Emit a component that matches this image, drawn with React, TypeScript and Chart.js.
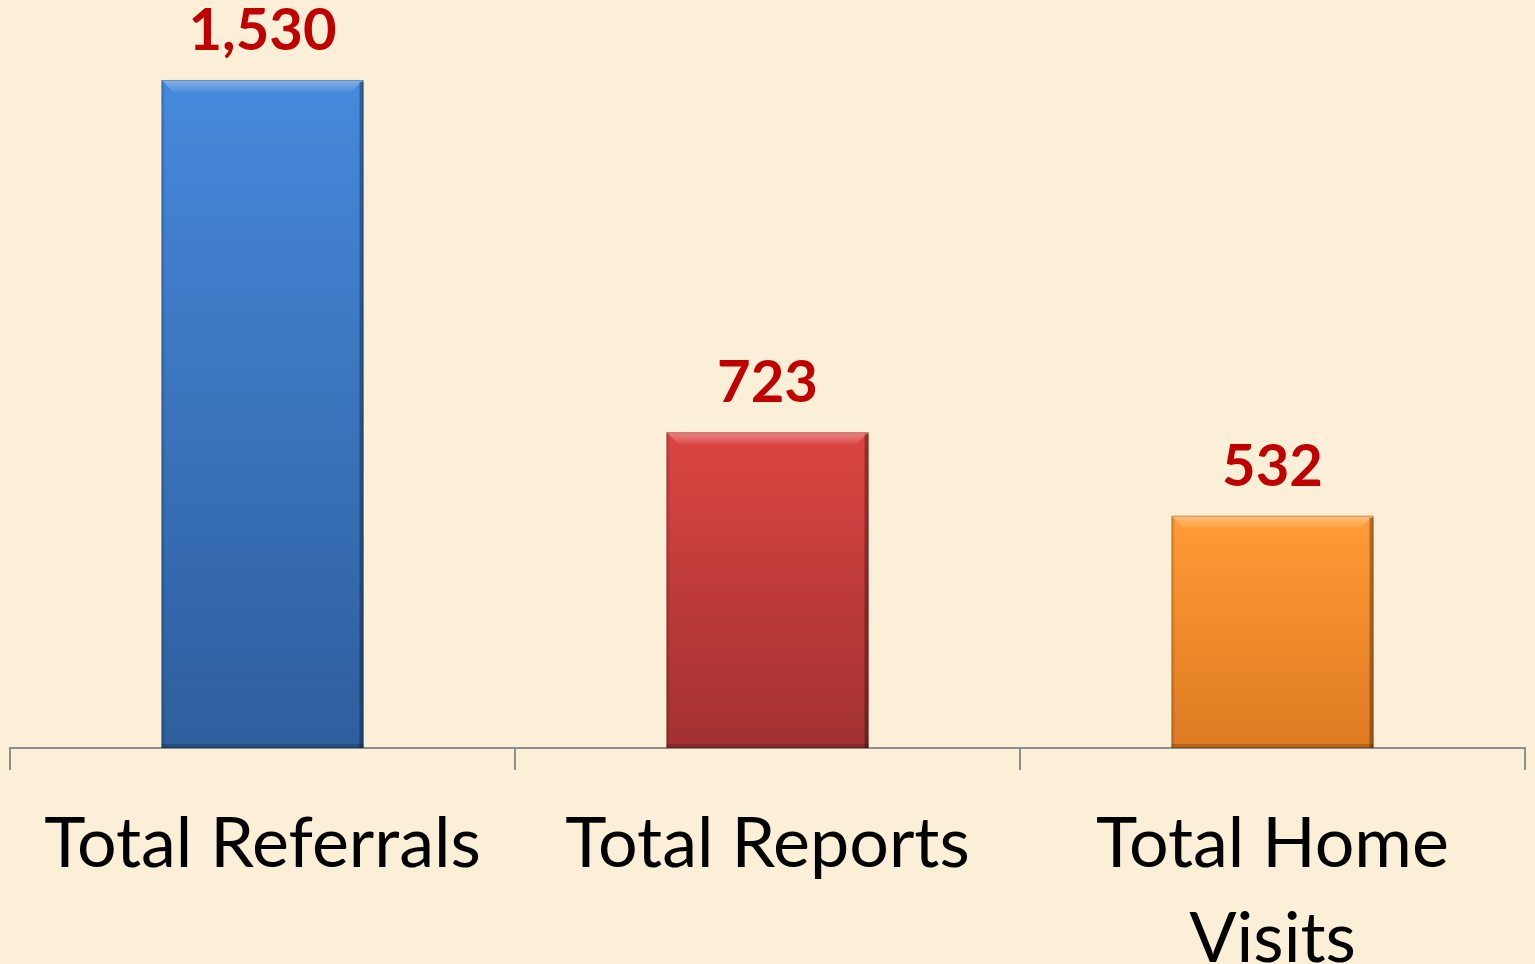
import React, { useEffect, useRef } from "react";
import { Chart, registerables } from "chart.js";

Chart.register(...registerables);

const categories: string[][] = [["Total Referrals"], ["Total Reports"], ["Total Home", "Visits"]];
const values: number[] = [1530, 723, 532];
const valueLabels: string[] = ["1,530", "723", "532"];
const topColors: string[] = ["#4689DC", "#DB4542", "#FF9C36"];
const bottomColors: string[] = ["#2E5E9D", "#A23131", "#DE7A22"];

const W = 1535;
const H = 964;

const bevelPlugin = {
  id: "bevel",
  afterDatasetsDraw(chart: any) {
    const ctx = chart.ctx;
    const meta = chart.getDatasetMeta(0);
    meta.data.forEach((bar: any) => {
      const { x, y, base, width } = bar.getProps(["x", "y", "base", "width"], true);
      const x0 = x - width / 2;
      const x1 = x + width / 2;
      const b = 12;
      ctx.save();
      // top bevel (light)
      const tg = ctx.createLinearGradient(0, y, 0, y + b);
      tg.addColorStop(0, "rgba(255,255,255,0.35)");
      tg.addColorStop(1, "rgba(255,255,255,0.05)");
      ctx.fillStyle = tg;
      ctx.beginPath();
      ctx.moveTo(x0, y);
      ctx.lineTo(x1, y);
      ctx.lineTo(x1 - b, y + b);
      ctx.lineTo(x0 + b, y + b);
      ctx.closePath();
      ctx.fill();
      // left edge
      ctx.fillStyle = "rgba(0,0,0,0.08)";
      ctx.fillRect(x0, y + 2, 3, base - y - 2);
      // right edge
      ctx.fillStyle = "rgba(0,0,0,0.30)";
      ctx.fillRect(x1 - 4, y + 2, 4, base - y - 2);
      // bottom edge
      ctx.fillStyle = "rgba(0,0,0,0.18)";
      ctx.fillRect(x0, base - 4, width, 4);
      // outline
      ctx.strokeStyle = "rgba(0,0,0,0.22)";
      ctx.lineWidth = 1;
      ctx.strokeRect(x0 + 0.5, y + 0.5, width - 1, base - y - 1);
      ctx.restore();
    });
  },
};

const valueLabelPlugin = {
  id: "valueLabels",
  afterDatasetsDraw(chart: any) {
    const ctx = chart.ctx;
    const meta = chart.getDatasetMeta(0);
    ctx.save();
    ctx.font = "bold 58px Lato, 'Open Sans', sans-serif";
    ctx.fillStyle = "#C00000";
    ctx.textAlign = "center";
    ctx.textBaseline = "alphabetic";
    meta.data.forEach((bar: any, i: number) => {
      ctx.fillText(valueLabels[i], bar.x, bar.y - 30);
    });
    ctx.restore();
  },
};

export default function App() {
  const ref = useRef<HTMLCanvasElement | null>(null);

  useEffect(() => {
    if (!ref.current) return;
    const chart = new Chart(ref.current, {
      type: "bar",
      data: {
        labels: categories as any,
        datasets: [
          {
            data: values,
            backgroundColor: (c: any) => {
              const ch = c.chart;
              const i = c.dataIndex;
              const ys = ch.scales && ch.scales.y;
              if (!ys || !ch.chartArea) return topColors[i];
              const top = ys.getPixelForValue(values[i]);
              const base = ys.getPixelForValue(0);
              const g = ch.ctx.createLinearGradient(0, top, 0, base);
              g.addColorStop(0, topColors[i]);
              g.addColorStop(1, bottomColors[i]);
              return g;
            },
            borderWidth: 0,
            barPercentage: 0.4,
            categoryPercentage: 1,
          },
        ],
      },
      options: {
        responsive: false,
        animation: false,
        layout: { padding: { left: 10, right: 10, top: 0, bottom: 0 } },
        plugins: {
          legend: { display: false },
          tooltip: { enabled: false },
          title: { display: false },
        },
        scales: {
          x: {
            offset: true,
            grid: {
              offset: true,
              drawOnChartArea: false,
              drawTicks: true,
              tickLength: 22,
              color: "#8E8E8E",
              lineWidth: 2,
            },
            border: { display: true, color: "#8E8E8E", width: 2 },
            ticks: {
              color: "#000000",
              padding: 27,
              maxRotation: 0,
              autoSkip: false,
              font: { family: "Lato, 'Open Sans', sans-serif", size: 70, lineHeight: 95 / 70 },
            },
            afterFit: (scale: any) => {
              scale.height = 216;
            },
          },
          y: {
            display: false,
            min: 0,
            max: 1713,
          },
        },
      },
      plugins: [bevelPlugin, valueLabelPlugin],
    });
    return () => chart.destroy();
  }, []);

  return (
    <div
      style={{
        position: "fixed",
        left: 0,
        top: 0,
        width: W,
        height: H,
        overflow: "hidden",
        background: "#FBEFD7",
      }}
    >
      <canvas ref={ref} width={W} height={H} style={{ display: "block", width: W, height: H }} />
    </div>
  );
}
